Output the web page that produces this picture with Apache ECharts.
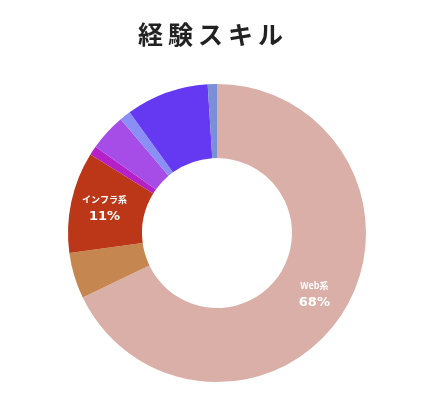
<!DOCTYPE html>
<html>
<head>
<meta charset="utf-8">
<script src="https://cdn.jsdelivr.net/npm/echarts@6/dist/echarts.min.js"></script>
<style>html,body{margin:0;padding:0;background:#fff}#c{width:421px;height:410px}</style>
</head>
<body>
<div id="c"></div>
<script>
var titleText = '経験スキル';
var categories = ['Web系', 'その他1', 'インフラ系', 'その他2', 'その他3', 'その他4', 'その他5', 'その他6'];
var values = [68, 5, 11, 1, 4, 1.2, 9, 1];
var colors = ['#d9afa8', '#c5874f', '#bb3717', '#b520c8', '#a64de8', '#8a8ff5', '#6538f2', '#7a8fd6'];
var labeled = ['Web系', 'インフラ系'];

var chart = echarts.init(document.getElementById('c'), null, {renderer: 'canvas'});
var total = values.reduce(function(a, b){ return a + b; }, 0);
var data = categories.map(function(c, i){
  return {
    name: c,
    value: values[i],
    itemStyle: {color: colors[i]},
    label: {show: labeled.indexOf(c) >= 0}
  };
});
chart.setOption({
  animation: false,
  title: {
    text: titleText.split('').join('\u2009'),
    left: 'center',
    top: 17,
    textStyle: {fontSize: 25, fontWeight: 'bold', color: '#222', fontFamily: 'Noto Sans CJK JP'}
  },
  series: [{
    type: 'pie',
    center: [217, 233],
    radius: [75, 149],
    startAngle: 90,
    clockwise: true,
    data: data,
    label: {
      position: 'inside',
      formatter: function(p){ return '{n|' + p.name + '}\n{v|' + Math.round(p.value / total * 100) + '%}'; },
      rich: {
        n: {fontSize: 9, fontWeight: 'bold', color: '#fff', fontFamily: 'Noto Sans CJK JP', lineHeight: 16},
        v: {fontSize: 13, fontWeight: 'bold', color: '#fff', fontFamily: 'DejaVu Sans', lineHeight: 18}
      }
    },
    labelLine: {show: false},
    emphasis: {disabled: true}
  }]
});
</script>
</body>
</html>
